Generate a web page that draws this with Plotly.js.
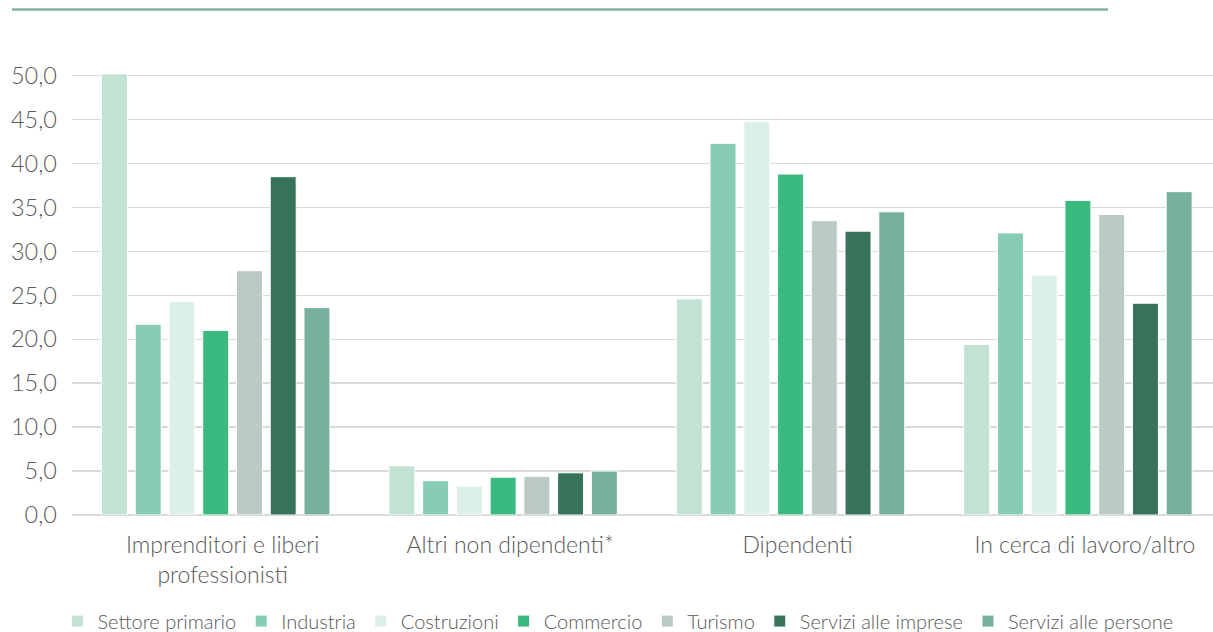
<!DOCTYPE html>
<html>
<head>
<meta charset="utf-8">
<script src="https://cdn.plot.ly/plotly-3.0.1.min.js"></script>
<style>html,body{margin:0;padding:0;background:#fff;}#chart{width:1213px;height:632px;}</style>
</head>
<body>
<div id="chart"></div>
<script>
const categories = ["Imprenditori e liberi<br>professionisti", "Altri non dipendenti*", "Dipendenti", "In cerca di lavoro/altro"];
const seriesNames = ["Settore primario", "Industria", "Costruzioni", "Commercio", "Turismo", "Servizi alle imprese", "Servizi alle persone"];
const settorePrimario = [50.2, 5.6, 24.6, 19.4];
const industria = [21.7, 3.9, 42.3, 32.1];
const costruzioni = [24.3, 3.3, 44.8, 27.3];
const commercio = [21.0, 4.3, 38.8, 35.8];
const turismo = [27.8, 4.4, 33.5, 34.2];
const serviziImprese = [38.5, 4.8, 32.3, 24.1];
const serviziPersone = [23.6, 5.0, 34.5, 36.8];
const seriesValues = [settorePrimario, industria, costruzioni, commercio, turismo, serviziImprese, serviziPersone];
const colors = ["#c2e3d4", "#86cdb4", "#ddf0e8", "#3bba80", "#bacbc3", "#37735a", "#77b09b"];

const font = "Lato, 'Open Sans', sans-serif";
const mk = (s) => ({family: font, color: "#595959", size: s, weight: 300});
const traces = seriesNames.map((name, i) => ({
  type: "bar",
  name: name,
  x: categories,
  y: seriesValues[i],
  marker: {color: colors[i], line: {color: "#ffffff", width: 1}},
  hoverinfo: "y+name"
}));

const layout = {
  width: 1213, height: 632,
  margin: {l: 72, r: 0, t: 73, b: 117, autoexpand: false},
  paper_bgcolor: "#ffffff", plot_bgcolor: "#ffffff",
  font: mk(20),
  separators: ",.",
  barmode: "group",
  bargap: 0.178,
  bargroupgap: 0.23,
  showlegend: true,
  legend: {orientation: "h", x: 0.4785, xanchor: "center", y: -0.24, yanchor: "middle",
           font: mk(20), itemwidth: 30, traceorder: "normal"},
  xaxis: {type: "category", range: [-0.5, 3.47], showgrid: false, zeroline: false, showline: false,
          ticks: "", tickfont: mk(23), ticklabelstandoff: 14, ticklabelshift: 7, automargin: false, fixedrange: true},
  yaxis: {range: [0, 50.3], dtick: 5, tick0: 0, tickformat: ".1f", showgrid: true,
          gridcolor: "#d9d9d9", gridwidth: 1.5, zeroline: true, zerolinecolor: "#d9d9d9", zerolinewidth: 1.5,
          showline: false, ticks: "", ticklabelstandoff: 14, tickfont: mk(23.5), automargin: false, fixedrange: true},
  shapes: [{type: "line", xref: "paper", yref: "paper", x0: -0.0526, x1: 0.908, y0: 1.1436, y1: 1.1436,
            line: {color: "#7fb5a0", width: 2.5}}]
};

Plotly.newPlot("chart", traces, layout, {displayModeBar: false, staticPlot: true});
</script>
</body>
</html>
